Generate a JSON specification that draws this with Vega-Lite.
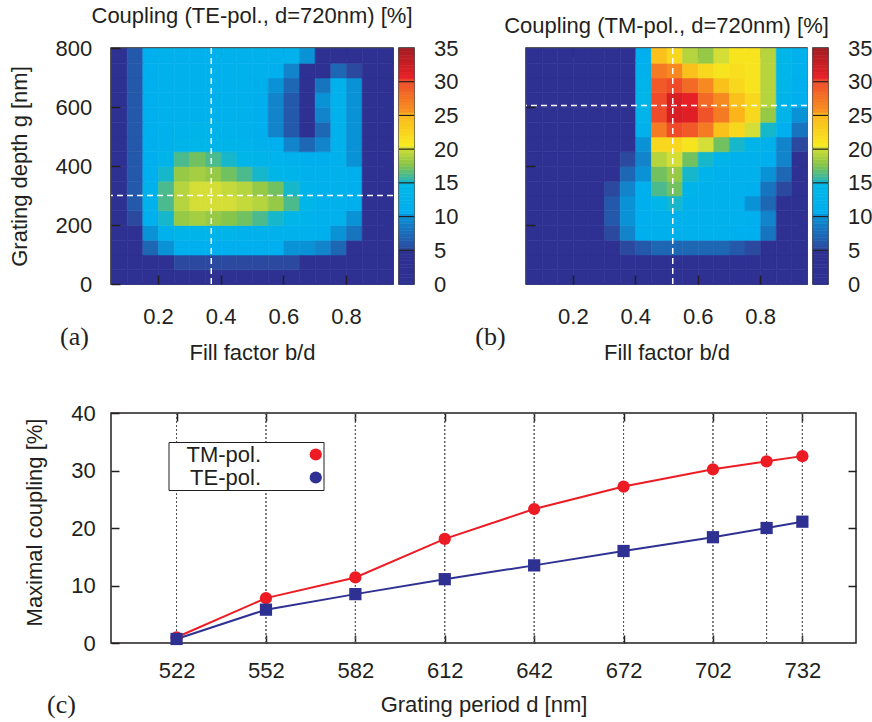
{
  "$schema": "https://vega.github.io/schema/vega-lite/v6.json",
  "background": "white",
  "padding": {"left": 7, "top": 4, "right": 5, "bottom": 5},
  "config": {
    "font": "Liberation Sans",
    "view": {"stroke": "#231f20", "strokeWidth": 1.5},
    "axis": {"labelFont": "Liberation Sans", "labelFontSize": 22, "labelColor": "#231f20", "titleFont": "Liberation Sans", "titleFontSize": 22, "titleFontWeight": "normal", "titleColor": "#231f20", "grid": false, "domain": false, "tickColor": "#231f20", "tickWidth": 1.5},
    "title": {"font": "Liberation Sans", "fontSize": 22, "fontWeight": "normal", "color": "#231f20"}
  },
  "datasets": {
    "te": [
      {"f":0.05,"g":0,"v":1},{"f":0.1,"g":0,"v":1},{"f":0.15,"g":0,"v":1},{"f":0.2,"g":0,"v":2},{"f":0.25,"g":0,"v":2},{"f":0.3,"g":0,"v":2},{"f":0.35,"g":0,"v":2},{"f":0.4,"g":0,"v":2},{"f":0.45,"g":0,"v":2},{"f":0.5,"g":0,"v":2},{"f":0.55,"g":0,"v":2},{"f":0.6,"g":0,"v":2},{"f":0.65,"g":0,"v":2},{"f":0.7,"g":0,"v":2},{"f":0.75,"g":0,"v":1},{"f":0.8,"g":0,"v":1},{"f":0.85,"g":0,"v":1},{"f":0.9,"g":0,"v":1},
      {"f":0.05,"g":50,"v":1},{"f":0.1,"g":50,"v":2},{"f":0.15,"g":50,"v":3},{"f":0.2,"g":50,"v":4},{"f":0.25,"g":50,"v":5},{"f":0.3,"g":50,"v":5},{"f":0.35,"g":50,"v":5},{"f":0.4,"g":50,"v":5},{"f":0.45,"g":50,"v":5},{"f":0.5,"g":50,"v":5},{"f":0.55,"g":50,"v":5},{"f":0.6,"g":50,"v":5},{"f":0.65,"g":50,"v":4},{"f":0.7,"g":50,"v":4},{"f":0.75,"g":50,"v":3},{"f":0.8,"g":50,"v":2},{"f":0.85,"g":50,"v":1},{"f":0.9,"g":50,"v":1},
      {"f":0.05,"g":100,"v":1},{"f":0.1,"g":100,"v":3},{"f":0.15,"g":100,"v":7},{"f":0.2,"g":100,"v":10},{"f":0.25,"g":100,"v":11},{"f":0.3,"g":100,"v":11},{"f":0.35,"g":100,"v":11},{"f":0.4,"g":100,"v":11},{"f":0.45,"g":100,"v":11},{"f":0.5,"g":100,"v":11},{"f":0.55,"g":100,"v":11},{"f":0.6,"g":100,"v":10},{"f":0.65,"g":100,"v":10},{"f":0.7,"g":100,"v":9},{"f":0.75,"g":100,"v":7},{"f":0.8,"g":100,"v":4},{"f":0.85,"g":100,"v":2},{"f":0.9,"g":100,"v":1},
      {"f":0.05,"g":150,"v":1},{"f":0.1,"g":150,"v":4},{"f":0.15,"g":150,"v":10},{"f":0.2,"g":150,"v":12},{"f":0.25,"g":150,"v":13},{"f":0.3,"g":150,"v":13},{"f":0.35,"g":150,"v":13},{"f":0.4,"g":150,"v":13},{"f":0.45,"g":150,"v":12},{"f":0.5,"g":150,"v":12},{"f":0.55,"g":150,"v":12},{"f":0.6,"g":150,"v":12},{"f":0.65,"g":150,"v":12},{"f":0.7,"g":150,"v":11},{"f":0.75,"g":150,"v":10},{"f":0.8,"g":150,"v":8},{"f":0.85,"g":150,"v":3},{"f":0.9,"g":150,"v":1},
      {"f":0.05,"g":200,"v":1},{"f":0.1,"g":200,"v":5},{"f":0.15,"g":200,"v":11},{"f":0.2,"g":200,"v":15},{"f":0.25,"g":200,"v":18},{"f":0.3,"g":200,"v":18.5},{"f":0.35,"g":200,"v":18},{"f":0.4,"g":200,"v":17.5},{"f":0.45,"g":200,"v":17},{"f":0.5,"g":200,"v":16},{"f":0.55,"g":200,"v":15},{"f":0.6,"g":200,"v":14},{"f":0.65,"g":200,"v":12.5},{"f":0.7,"g":200,"v":12},{"f":0.75,"g":200,"v":12},{"f":0.8,"g":200,"v":10},{"f":0.85,"g":200,"v":3},{"f":0.9,"g":200,"v":1},
      {"f":0.05,"g":250,"v":1},{"f":0.1,"g":250,"v":6},{"f":0.15,"g":250,"v":12},{"f":0.2,"g":250,"v":16},{"f":0.25,"g":250,"v":19},{"f":0.3,"g":250,"v":20},{"f":0.35,"g":250,"v":20},{"f":0.4,"g":250,"v":20},{"f":0.45,"g":250,"v":19.5},{"f":0.5,"g":250,"v":19},{"f":0.55,"g":250,"v":18},{"f":0.6,"g":250,"v":16},{"f":0.65,"g":250,"v":14},{"f":0.7,"g":250,"v":12},{"f":0.75,"g":250,"v":12},{"f":0.8,"g":250,"v":11},{"f":0.85,"g":250,"v":4},{"f":0.9,"g":250,"v":1},
      {"f":0.05,"g":300,"v":1},{"f":0.1,"g":300,"v":6},{"f":0.15,"g":300,"v":12},{"f":0.2,"g":300,"v":16},{"f":0.25,"g":300,"v":19},{"f":0.3,"g":300,"v":20},{"f":0.35,"g":300,"v":20},{"f":0.4,"g":300,"v":19.5},{"f":0.45,"g":300,"v":19},{"f":0.5,"g":300,"v":18},{"f":0.55,"g":300,"v":17},{"f":0.6,"g":300,"v":15},{"f":0.65,"g":300,"v":13},{"f":0.7,"g":300,"v":12},{"f":0.75,"g":300,"v":12},{"f":0.8,"g":300,"v":11},{"f":0.85,"g":300,"v":4},{"f":0.9,"g":300,"v":1},
      {"f":0.05,"g":350,"v":1},{"f":0.1,"g":350,"v":6},{"f":0.15,"g":350,"v":11},{"f":0.2,"g":350,"v":15},{"f":0.25,"g":350,"v":18},{"f":0.3,"g":350,"v":18.5},{"f":0.35,"g":350,"v":18},{"f":0.4,"g":350,"v":17},{"f":0.45,"g":350,"v":16},{"f":0.5,"g":350,"v":15},{"f":0.55,"g":350,"v":14},{"f":0.6,"g":350,"v":13},{"f":0.65,"g":350,"v":12},{"f":0.7,"g":350,"v":12},{"f":0.75,"g":350,"v":12},{"f":0.8,"g":350,"v":11},{"f":0.85,"g":350,"v":3},{"f":0.9,"g":350,"v":1},
      {"f":0.05,"g":400,"v":1},{"f":0.1,"g":400,"v":6},{"f":0.15,"g":400,"v":11},{"f":0.2,"g":400,"v":13},{"f":0.25,"g":400,"v":16},{"f":0.3,"g":400,"v":17},{"f":0.35,"g":400,"v":16},{"f":0.4,"g":400,"v":15},{"f":0.45,"g":400,"v":14},{"f":0.5,"g":400,"v":13},{"f":0.55,"g":400,"v":12.5},{"f":0.6,"g":400,"v":12},{"f":0.65,"g":400,"v":11.5},{"f":0.7,"g":400,"v":11},{"f":0.75,"g":400,"v":12},{"f":0.8,"g":400,"v":10},{"f":0.85,"g":400,"v":3},{"f":0.9,"g":400,"v":1},
      {"f":0.05,"g":450,"v":1},{"f":0.1,"g":450,"v":6},{"f":0.15,"g":450,"v":11},{"f":0.2,"g":450,"v":12},{"f":0.25,"g":450,"v":13},{"f":0.3,"g":450,"v":14},{"f":0.35,"g":450,"v":13.5},{"f":0.4,"g":450,"v":13},{"f":0.45,"g":450,"v":12.5},{"f":0.5,"g":450,"v":12},{"f":0.55,"g":450,"v":11},{"f":0.6,"g":450,"v":9},{"f":0.65,"g":450,"v":7},{"f":0.7,"g":450,"v":9},{"f":0.75,"g":450,"v":12},{"f":0.8,"g":450,"v":10},{"f":0.85,"g":450,"v":2},{"f":0.9,"g":450,"v":1},
      {"f":0.05,"g":500,"v":1},{"f":0.1,"g":500,"v":6},{"f":0.15,"g":500,"v":11},{"f":0.2,"g":500,"v":12},{"f":0.25,"g":500,"v":12.5},{"f":0.3,"g":500,"v":13},{"f":0.35,"g":500,"v":13},{"f":0.4,"g":500,"v":12.5},{"f":0.45,"g":500,"v":12},{"f":0.5,"g":500,"v":11},{"f":0.55,"g":500,"v":9},{"f":0.6,"g":500,"v":6},{"f":0.65,"g":500,"v":3},{"f":0.7,"g":500,"v":7},{"f":0.75,"g":500,"v":12},{"f":0.8,"g":500,"v":10},{"f":0.85,"g":500,"v":2},{"f":0.9,"g":500,"v":1},
      {"f":0.05,"g":550,"v":1},{"f":0.1,"g":550,"v":6},{"f":0.15,"g":550,"v":11},{"f":0.2,"g":550,"v":12},{"f":0.25,"g":550,"v":12},{"f":0.3,"g":550,"v":12},{"f":0.35,"g":550,"v":12},{"f":0.4,"g":550,"v":12},{"f":0.45,"g":550,"v":12},{"f":0.5,"g":550,"v":11},{"f":0.55,"g":550,"v":9},{"f":0.6,"g":550,"v":6},{"f":0.65,"g":550,"v":3},{"f":0.7,"g":550,"v":9},{"f":0.75,"g":550,"v":12},{"f":0.8,"g":550,"v":10},{"f":0.85,"g":550,"v":2},{"f":0.9,"g":550,"v":1},
      {"f":0.05,"g":600,"v":1},{"f":0.1,"g":600,"v":6},{"f":0.15,"g":600,"v":11},{"f":0.2,"g":600,"v":12},{"f":0.25,"g":600,"v":12},{"f":0.3,"g":600,"v":12},{"f":0.35,"g":600,"v":12},{"f":0.4,"g":600,"v":12},{"f":0.45,"g":600,"v":12},{"f":0.5,"g":600,"v":11},{"f":0.55,"g":600,"v":9},{"f":0.6,"g":600,"v":6},{"f":0.65,"g":600,"v":3},{"f":0.7,"g":600,"v":10},{"f":0.75,"g":600,"v":12},{"f":0.8,"g":600,"v":10},{"f":0.85,"g":600,"v":2},{"f":0.9,"g":600,"v":1},
      {"f":0.05,"g":650,"v":1},{"f":0.1,"g":650,"v":6},{"f":0.15,"g":650,"v":11},{"f":0.2,"g":650,"v":12},{"f":0.25,"g":650,"v":12},{"f":0.3,"g":650,"v":12},{"f":0.35,"g":650,"v":12},{"f":0.4,"g":650,"v":12},{"f":0.45,"g":650,"v":12},{"f":0.5,"g":650,"v":11.5},{"f":0.55,"g":650,"v":10},{"f":0.6,"g":650,"v":7},{"f":0.65,"g":650,"v":3},{"f":0.7,"g":650,"v":8},{"f":0.75,"g":650,"v":12},{"f":0.8,"g":650,"v":10},{"f":0.85,"g":650,"v":2},{"f":0.9,"g":650,"v":1},
      {"f":0.05,"g":700,"v":1},{"f":0.1,"g":700,"v":6},{"f":0.15,"g":700,"v":11},{"f":0.2,"g":700,"v":12},{"f":0.25,"g":700,"v":12},{"f":0.3,"g":700,"v":12},{"f":0.35,"g":700,"v":12},{"f":0.4,"g":700,"v":12},{"f":0.45,"g":700,"v":12},{"f":0.5,"g":700,"v":12},{"f":0.55,"g":700,"v":11},{"f":0.6,"g":700,"v":9},{"f":0.65,"g":700,"v":4},{"f":0.7,"g":700,"v":4},{"f":0.75,"g":700,"v":7},{"f":0.8,"g":700,"v":5},{"f":0.85,"g":700,"v":1},{"f":0.9,"g":700,"v":1},
      {"f":0.05,"g":750,"v":1},{"f":0.1,"g":750,"v":6},{"f":0.15,"g":750,"v":11},{"f":0.2,"g":750,"v":12},{"f":0.25,"g":750,"v":12},{"f":0.3,"g":750,"v":12},{"f":0.35,"g":750,"v":12},{"f":0.4,"g":750,"v":12},{"f":0.45,"g":750,"v":12},{"f":0.5,"g":750,"v":12},{"f":0.55,"g":750,"v":12},{"f":0.6,"g":750,"v":12},{"f":0.65,"g":750,"v":10},{"f":0.7,"g":750,"v":2},{"f":0.75,"g":750,"v":2},{"f":0.8,"g":750,"v":1},{"f":0.85,"g":750,"v":1},{"f":0.9,"g":750,"v":1}
    ],
    "tm": [
      {"f":0.05,"g":0,"v":1},{"f":0.1,"g":0,"v":1},{"f":0.15,"g":0,"v":1},{"f":0.2,"g":0,"v":1},{"f":0.25,"g":0,"v":1},{"f":0.3,"g":0,"v":1},{"f":0.35,"g":0,"v":1},{"f":0.4,"g":0,"v":1},{"f":0.45,"g":0,"v":1},{"f":0.5,"g":0,"v":1},{"f":0.55,"g":0,"v":1},{"f":0.6,"g":0,"v":1},{"f":0.65,"g":0,"v":1},{"f":0.7,"g":0,"v":1},{"f":0.75,"g":0,"v":1},{"f":0.8,"g":0,"v":1},{"f":0.85,"g":0,"v":1},{"f":0.9,"g":0,"v":1},
      {"f":0.05,"g":50,"v":1},{"f":0.1,"g":50,"v":1},{"f":0.15,"g":50,"v":1},{"f":0.2,"g":50,"v":1},{"f":0.25,"g":50,"v":1},{"f":0.3,"g":50,"v":1.5},{"f":0.35,"g":50,"v":2},{"f":0.4,"g":50,"v":2.5},{"f":0.45,"g":50,"v":3},{"f":0.5,"g":50,"v":3},{"f":0.55,"g":50,"v":3},{"f":0.6,"g":50,"v":3},{"f":0.65,"g":50,"v":3},{"f":0.7,"g":50,"v":3},{"f":0.75,"g":50,"v":2},{"f":0.8,"g":50,"v":2},{"f":0.85,"g":50,"v":1},{"f":0.9,"g":50,"v":1},
      {"f":0.05,"g":100,"v":1},{"f":0.1,"g":100,"v":1},{"f":0.15,"g":100,"v":1},{"f":0.2,"g":100,"v":1},{"f":0.25,"g":100,"v":1},{"f":0.3,"g":100,"v":3},{"f":0.35,"g":100,"v":5},{"f":0.4,"g":100,"v":6},{"f":0.45,"g":100,"v":7},{"f":0.5,"g":100,"v":7},{"f":0.55,"g":100,"v":7},{"f":0.6,"g":100,"v":7},{"f":0.65,"g":100,"v":7},{"f":0.7,"g":100,"v":6},{"f":0.75,"g":100,"v":5},{"f":0.8,"g":100,"v":4},{"f":0.85,"g":100,"v":2},{"f":0.9,"g":100,"v":1},
      {"f":0.05,"g":150,"v":1},{"f":0.1,"g":150,"v":1},{"f":0.15,"g":150,"v":1},{"f":0.2,"g":150,"v":1},{"f":0.25,"g":150,"v":2},{"f":0.3,"g":150,"v":5},{"f":0.35,"g":150,"v":9},{"f":0.4,"g":150,"v":11},{"f":0.45,"g":150,"v":11.5},{"f":0.5,"g":150,"v":12},{"f":0.55,"g":150,"v":12},{"f":0.6,"g":150,"v":12},{"f":0.65,"g":150,"v":12},{"f":0.7,"g":150,"v":11},{"f":0.75,"g":150,"v":11},{"f":0.8,"g":150,"v":8},{"f":0.85,"g":150,"v":3},{"f":0.9,"g":150,"v":1},
      {"f":0.05,"g":200,"v":1},{"f":0.1,"g":200,"v":1},{"f":0.15,"g":200,"v":1},{"f":0.2,"g":200,"v":1},{"f":0.25,"g":200,"v":2},{"f":0.3,"g":200,"v":6},{"f":0.35,"g":200,"v":10},{"f":0.4,"g":200,"v":11},{"f":0.45,"g":200,"v":12},{"f":0.5,"g":200,"v":12},{"f":0.55,"g":200,"v":12},{"f":0.6,"g":200,"v":12},{"f":0.65,"g":200,"v":12},{"f":0.7,"g":200,"v":12},{"f":0.75,"g":200,"v":11},{"f":0.8,"g":200,"v":9},{"f":0.85,"g":200,"v":4},{"f":0.9,"g":200,"v":2},
      {"f":0.05,"g":250,"v":1},{"f":0.1,"g":250,"v":1},{"f":0.15,"g":250,"v":1},{"f":0.2,"g":250,"v":1},{"f":0.25,"g":250,"v":2},{"f":0.3,"g":250,"v":6},{"f":0.35,"g":250,"v":10},{"f":0.4,"g":250,"v":11},{"f":0.45,"g":250,"v":14},{"f":0.5,"g":250,"v":15},{"f":0.55,"g":250,"v":12},{"f":0.6,"g":250,"v":12},{"f":0.65,"g":250,"v":12},{"f":0.7,"g":250,"v":12},{"f":0.75,"g":250,"v":10},{"f":0.8,"g":250,"v":7},{"f":0.85,"g":250,"v":4},{"f":0.9,"g":250,"v":2},
      {"f":0.05,"g":300,"v":1},{"f":0.1,"g":300,"v":1},{"f":0.15,"g":300,"v":1},{"f":0.2,"g":300,"v":1},{"f":0.25,"g":300,"v":2},{"f":0.3,"g":300,"v":5},{"f":0.35,"g":300,"v":9},{"f":0.4,"g":300,"v":11},{"f":0.45,"g":300,"v":16},{"f":0.5,"g":300,"v":17},{"f":0.55,"g":300,"v":13},{"f":0.6,"g":300,"v":12},{"f":0.65,"g":300,"v":12},{"f":0.7,"g":300,"v":12},{"f":0.75,"g":300,"v":11},{"f":0.8,"g":300,"v":8},{"f":0.85,"g":300,"v":5},{"f":0.9,"g":300,"v":2},
      {"f":0.05,"g":350,"v":1},{"f":0.1,"g":350,"v":1},{"f":0.15,"g":350,"v":1},{"f":0.2,"g":350,"v":1},{"f":0.25,"g":350,"v":2},{"f":0.3,"g":350,"v":4},{"f":0.35,"g":350,"v":7},{"f":0.4,"g":350,"v":10},{"f":0.45,"g":350,"v":17},{"f":0.5,"g":350,"v":18},{"f":0.55,"g":350,"v":15},{"f":0.6,"g":350,"v":13},{"f":0.65,"g":350,"v":12},{"f":0.7,"g":350,"v":12},{"f":0.75,"g":350,"v":12},{"f":0.8,"g":350,"v":10},{"f":0.85,"g":350,"v":7},{"f":0.9,"g":350,"v":3},
      {"f":0.05,"g":400,"v":1},{"f":0.1,"g":400,"v":1},{"f":0.15,"g":400,"v":1},{"f":0.2,"g":400,"v":1},{"f":0.25,"g":400,"v":1},{"f":0.3,"g":400,"v":3},{"f":0.35,"g":400,"v":5},{"f":0.4,"g":400,"v":9},{"f":0.45,"g":400,"v":19},{"f":0.5,"g":400,"v":20},{"f":0.55,"g":400,"v":17},{"f":0.6,"g":400,"v":15},{"f":0.65,"g":400,"v":13},{"f":0.7,"g":400,"v":12},{"f":0.75,"g":400,"v":12},{"f":0.8,"g":400,"v":11},{"f":0.85,"g":400,"v":9},{"f":0.9,"g":400,"v":4},
      {"f":0.05,"g":450,"v":1},{"f":0.1,"g":450,"v":1},{"f":0.15,"g":450,"v":1},{"f":0.2,"g":450,"v":1},{"f":0.25,"g":450,"v":1},{"f":0.3,"g":450,"v":2},{"f":0.35,"g":450,"v":3},{"f":0.4,"g":450,"v":10},{"f":0.45,"g":450,"v":22},{"f":0.5,"g":450,"v":22},{"f":0.55,"g":450,"v":21},{"f":0.6,"g":450,"v":20},{"f":0.65,"g":450,"v":17},{"f":0.7,"g":450,"v":15},{"f":0.75,"g":450,"v":13},{"f":0.8,"g":450,"v":12},{"f":0.85,"g":450,"v":9},{"f":0.9,"g":450,"v":5},
      {"f":0.05,"g":500,"v":1},{"f":0.1,"g":500,"v":1},{"f":0.15,"g":500,"v":1},{"f":0.2,"g":500,"v":1},{"f":0.25,"g":500,"v":1},{"f":0.3,"g":500,"v":1},{"f":0.35,"g":500,"v":1},{"f":0.4,"g":500,"v":12},{"f":0.45,"g":500,"v":27},{"f":0.5,"g":500,"v":30},{"f":0.55,"g":500,"v":29},{"f":0.6,"g":500,"v":27},{"f":0.65,"g":500,"v":24},{"f":0.7,"g":500,"v":22},{"f":0.75,"g":500,"v":20},{"f":0.8,"g":500,"v":15},{"f":0.85,"g":500,"v":11},{"f":0.9,"g":500,"v":8},
      {"f":0.05,"g":550,"v":1},{"f":0.1,"g":550,"v":1},{"f":0.15,"g":550,"v":1},{"f":0.2,"g":550,"v":1},{"f":0.25,"g":550,"v":1},{"f":0.3,"g":550,"v":1},{"f":0.35,"g":550,"v":1},{"f":0.4,"g":550,"v":13},{"f":0.45,"g":550,"v":30},{"f":0.5,"g":550,"v":31.5},{"f":0.55,"g":550,"v":31},{"f":0.6,"g":550,"v":29.5},{"f":0.65,"g":550,"v":27},{"f":0.7,"g":550,"v":25},{"f":0.75,"g":550,"v":22},{"f":0.8,"g":550,"v":18},{"f":0.85,"g":550,"v":13},{"f":0.9,"g":550,"v":10},
      {"f":0.05,"g":600,"v":1},{"f":0.1,"g":600,"v":1},{"f":0.15,"g":600,"v":1},{"f":0.2,"g":600,"v":1},{"f":0.25,"g":600,"v":1},{"f":0.3,"g":600,"v":1},{"f":0.35,"g":600,"v":1},{"f":0.4,"g":600,"v":14},{"f":0.45,"g":600,"v":30},{"f":0.5,"g":600,"v":31.5},{"f":0.55,"g":600,"v":30.5},{"f":0.6,"g":600,"v":28},{"f":0.65,"g":600,"v":26},{"f":0.7,"g":600,"v":24},{"f":0.75,"g":600,"v":22},{"f":0.8,"g":600,"v":19},{"f":0.85,"g":600,"v":13},{"f":0.9,"g":600,"v":11},
      {"f":0.05,"g":650,"v":1},{"f":0.1,"g":650,"v":1},{"f":0.15,"g":650,"v":1},{"f":0.2,"g":650,"v":1},{"f":0.25,"g":650,"v":1},{"f":0.3,"g":650,"v":1},{"f":0.35,"g":650,"v":1},{"f":0.4,"g":650,"v":13},{"f":0.45,"g":650,"v":29},{"f":0.5,"g":650,"v":30},{"f":0.55,"g":650,"v":28},{"f":0.6,"g":650,"v":26},{"f":0.65,"g":650,"v":24},{"f":0.7,"g":650,"v":22},{"f":0.75,"g":650,"v":21},{"f":0.8,"g":650,"v":19},{"f":0.85,"g":650,"v":14},{"f":0.9,"g":650,"v":11},
      {"f":0.05,"g":700,"v":1},{"f":0.1,"g":700,"v":1},{"f":0.15,"g":700,"v":1},{"f":0.2,"g":700,"v":1},{"f":0.25,"g":700,"v":1},{"f":0.3,"g":700,"v":1},{"f":0.35,"g":700,"v":1},{"f":0.4,"g":700,"v":12},{"f":0.45,"g":700,"v":27},{"f":0.5,"g":700,"v":26},{"f":0.55,"g":700,"v":24},{"f":0.6,"g":700,"v":22},{"f":0.65,"g":700,"v":21},{"f":0.7,"g":700,"v":21.5},{"f":0.75,"g":700,"v":21},{"f":0.8,"g":700,"v":19},{"f":0.85,"g":700,"v":14},{"f":0.9,"g":700,"v":12},
      {"f":0.05,"g":750,"v":1},{"f":0.1,"g":750,"v":1},{"f":0.15,"g":750,"v":1},{"f":0.2,"g":750,"v":1},{"f":0.25,"g":750,"v":1},{"f":0.3,"g":750,"v":1},{"f":0.35,"g":750,"v":1},{"f":0.4,"g":750,"v":11},{"f":0.45,"g":750,"v":24},{"f":0.5,"g":750,"v":22},{"f":0.55,"g":750,"v":19},{"f":0.6,"g":750,"v":18},{"f":0.65,"g":750,"v":20},{"f":0.7,"g":750,"v":21},{"f":0.75,"g":750,"v":21},{"f":0.8,"g":750,"v":19},{"f":0.85,"g":750,"v":14},{"f":0.9,"g":750,"v":12}
    ],
    "cbar": [
      {"v":0},{"v":0.5},{"v":1},{"v":1.5},{"v":2},{"v":2.5},{"v":3},{"v":3.5},{"v":4},{"v":4.5},
      {"v":5},{"v":5.5},{"v":6},{"v":6.5},{"v":7},{"v":7.5},{"v":8},{"v":8.5},{"v":9},{"v":9.5},
      {"v":10},{"v":10.5},{"v":11},{"v":11.5},{"v":12},{"v":12.5},{"v":13},{"v":13.5},{"v":14},{"v":14.5},
      {"v":15},{"v":15.5},{"v":16},{"v":16.5},{"v":17},{"v":17.5},{"v":18},{"v":18.5},{"v":19},{"v":19.5},
      {"v":20},{"v":20.5},{"v":21},{"v":21.5},{"v":22},{"v":22.5},{"v":23},{"v":23.5},{"v":24},{"v":24.5},
      {"v":25},{"v":25.5},{"v":26},{"v":26.5},{"v":27},{"v":27.5},{"v":28},{"v":28.5},{"v":29},{"v":29.5},
      {"v":30},{"v":30.5},{"v":31},{"v":31.5},{"v":32},{"v":32.5},{"v":33},{"v":33.5},{"v":34},{"v":34.5}
    ],
    "cbarLines": [{"v":5},{"v":10},{"v":15},{"v":20},{"v":25},{"v":30}],
    "lines": [
      {"pol":"TM-pol.","d":522,"c":1.0},{"pol":"TM-pol.","d":552,"c":7.8},{"pol":"TM-pol.","d":582,"c":11.4},{"pol":"TM-pol.","d":612,"c":18.1},{"pol":"TM-pol.","d":642,"c":23.3},{"pol":"TM-pol.","d":672,"c":27.2},{"pol":"TM-pol.","d":702,"c":30.2},{"pol":"TM-pol.","d":720,"c":31.6},{"pol":"TM-pol.","d":732,"c":32.5},
      {"pol":"TE-pol.","d":522,"c":0.7},{"pol":"TE-pol.","d":552,"c":5.8},{"pol":"TE-pol.","d":582,"c":8.5},{"pol":"TE-pol.","d":612,"c":11.1},{"pol":"TE-pol.","d":642,"c":13.5},{"pol":"TE-pol.","d":672,"c":16.0},{"pol":"TE-pol.","d":702,"c":18.4},{"pol":"TE-pol.","d":720,"c":20.0},{"pol":"TE-pol.","d":732,"c":21.1}
    ]
  },
  "spacing": 36,
  "vconcat": [
    {
      "bounds": "flush",
      "spacing": 6,
      "hconcat": [
        {
          "width": 282,
          "height": 236,
          "title": {"text": "Coupling (TE-pol., d=720nm) [%]", "anchor": "middle", "offset": -13, "baseline": "bottom"},
          "layer": [
            {
              "data": {"name": "te"},
              "mark": {"type": "rect", "strokeWidth": 0.6},
              "encoding": {
                "x": {"field": "f", "type": "quantitative", "bin": {"binned": true, "step": 0.05}, "scale": {"domain": [0.05, 0.95], "nice": false, "zero": false},
                      "axis": {"orient": "bottom", "values": [0.2, 0.4, 0.6, 0.8], "format": ".1f", "tickSize": -9, "labelPadding": 31.4, "title": "Fill factor b/d", "titleY": 68.3, "titleBaseline": "middle"}},
                "y": {"field": "g", "type": "quantitative", "bin": {"binned": true, "step": 50}, "scale": {"domain": [0, 800], "nice": false, "zero": false},
                      "axis": {"orient": "left", "values": [0, 200, 400, 600, 800], "tickSize": -9, "labelPadding": 28.3, "title": "Grating depth g [nm]", "titleX": -91.7, "titleY": 118, "titleBaseline": "middle"}},
                "color": {"field": "v", "type": "quantitative", "legend": null,
                          "scale": {"type": "linear", "clamp": true, "interpolate": "rgb",
                                    "domain": [0, 4.9, 5, 10, 10.5, 14.8, 15.2, 17.5, 20, 20.3, 25, 25.2, 30, 30.2, 35],
                                    "range": ["#2e3192", "#2e3192", "#2b4a9f", "#0a92d6", "#00aeef", "#00b8e6", "#2cb6b0", "#86c44a", "#d4de36", "#f7ec1f", "#fbb51b", "#f7961e", "#ef4a2a", "#ec1f26", "#a01d22"]}},
                "stroke": {"field": "v", "type": "quantitative", "legend": null,
                           "scale": {"type": "linear", "clamp": true, "interpolate": "rgb",
                                     "domain": [0, 4.9, 5, 10, 10.5, 14.8, 15.2, 17.5, 20, 20.3, 25, 25.2, 30, 30.2, 35],
                                     "range": ["#2e3192", "#2e3192", "#2b4a9f", "#0a92d6", "#00aeef", "#00b8e6", "#2cb6b0", "#86c44a", "#d4de36", "#f7ec1f", "#fbb51b", "#f7961e", "#ef4a2a", "#ec1f26", "#a01d22"]}}
              }
            },
            {
              "data": {"values": [{"f": 0.37}]},
              "mark": {"type": "rule", "color": "white", "strokeDash": [6, 4], "strokeWidth": 1.5},
              "encoding": {
                "x": {"field": "f", "type": "quantitative", "axis": {"orient": "top", "values": [0.2, 0.4, 0.6, 0.8], "labels": false, "tickSize": -9, "title": null}}
              }
            },
            {
              "data": {"values": [{"g": 300}]},
              "mark": {"type": "rule", "color": "white", "strokeDash": [6, 4], "strokeWidth": 1.5},
              "encoding": {
                "y": {"field": "g", "type": "quantitative", "axis": {"orient": "right", "values": [200, 400, 600], "labels": false, "tickSize": -9, "title": "(a)", "titleAngle": 0, "titleX": -319, "titleY": 288.4, "titleAlign": "center", "titleBaseline": "middle", "titleFont": "Liberation Serif", "titleFontSize": 26}}
              }
            }
          ],
          "resolve": {"axis": {"x": "independent", "y": "independent"}}
        },
        {
          "width": 15,
          "height": 236,
          "layer": [
            {
              "data": {"name": "cbar"},
              "mark": {"type": "rect", "strokeWidth": 0.6},
              "encoding": {
                "y": {"field": "v", "type": "quantitative", "bin": {"binned": true, "step": 0.5}, "scale": {"domain": [0, 35], "nice": false, "zero": false},
                      "axis": {"orient": "right", "values": [0, 5, 10, 15, 20, 25, 30, 35], "format": "d", "ticks": false, "labelPadding": 19.5, "title": null}},
                "color": {"field": "v", "type": "quantitative", "legend": null,
                          "scale": {"type": "linear", "clamp": true, "interpolate": "rgb",
                                    "domain": [0, 4.9, 5, 10, 10.5, 14.8, 15.2, 17.5, 20, 20.3, 25, 25.2, 30, 30.2, 35],
                                    "range": ["#2e3192", "#2e3192", "#2b4a9f", "#0a92d6", "#00aeef", "#00b8e6", "#2cb6b0", "#86c44a", "#d4de36", "#f7ec1f", "#fbb51b", "#f7961e", "#ef4a2a", "#ec1f26", "#a01d22"]}},
                "stroke": {"field": "v", "type": "quantitative", "legend": null,
                           "scale": {"type": "linear", "clamp": true, "interpolate": "rgb",
                                     "domain": [0, 4.9, 5, 10, 10.5, 14.8, 15.2, 17.5, 20, 20.3, 25, 25.2, 30, 30.2, 35],
                                     "range": ["#2e3192", "#2e3192", "#2b4a9f", "#0a92d6", "#00aeef", "#00b8e6", "#2cb6b0", "#86c44a", "#d4de36", "#f7ec1f", "#fbb51b", "#f7961e", "#ef4a2a", "#ec1f26", "#a01d22"]}}
              }
            },
            {
              "data": {"name": "cbarLines"},
              "mark": {"type": "rule", "color": "#231f20", "strokeWidth": 1.2},
              "encoding": {"y": {"field": "v", "type": "quantitative"}}
            }
          ]
        },
        {
          "width": 100,
          "height": 236,
          "view": {"stroke": null},
          "data": {"values": []},
          "mark": {"type": "rect"},
          "encoding": {}
        },
        {
          "width": 281,
          "height": 236,
          "title": {"text": "Coupling (TM-pol., d=720nm) [%]", "anchor": "middle", "offset": -13, "baseline": "bottom"},
          "layer": [
            {
              "data": {"name": "tm"},
              "mark": {"type": "rect", "strokeWidth": 0.6},
              "encoding": {
                "x": {"field": "f", "type": "quantitative", "bin": {"binned": true, "step": 0.05}, "scale": {"domain": [0.05, 0.95], "nice": false, "zero": false},
                      "axis": {"orient": "bottom", "values": [0.2, 0.4, 0.6, 0.8], "format": ".1f", "tickSize": -9, "labelPadding": 31.4, "title": "Fill factor b/d", "titleY": 68.3, "titleBaseline": "middle"}},
                "y": {"field": "g", "type": "quantitative", "bin": {"binned": true, "step": 50}, "scale": {"domain": [0, 800], "nice": false, "zero": false},
                      "axis": {"orient": "left", "values": [200, 400, 600], "labels": false, "tickSize": -9, "title": null}},
                "color": {"field": "v", "type": "quantitative", "legend": null,
                          "scale": {"type": "linear", "clamp": true, "interpolate": "rgb",
                                    "domain": [0, 4.9, 5, 10, 10.5, 14.8, 15.2, 17.5, 20, 20.3, 25, 25.2, 30, 30.2, 35],
                                    "range": ["#2e3192", "#2e3192", "#2b4a9f", "#0a92d6", "#00aeef", "#00b8e6", "#2cb6b0", "#86c44a", "#d4de36", "#f7ec1f", "#fbb51b", "#f7961e", "#ef4a2a", "#ec1f26", "#a01d22"]}},
                "stroke": {"field": "v", "type": "quantitative", "legend": null,
                           "scale": {"type": "linear", "clamp": true, "interpolate": "rgb",
                                     "domain": [0, 4.9, 5, 10, 10.5, 14.8, 15.2, 17.5, 20, 20.3, 25, 25.2, 30, 30.2, 35],
                                     "range": ["#2e3192", "#2e3192", "#2b4a9f", "#0a92d6", "#00aeef", "#00b8e6", "#2cb6b0", "#86c44a", "#d4de36", "#f7ec1f", "#fbb51b", "#f7961e", "#ef4a2a", "#ec1f26", "#a01d22"]}}
              }
            },
            {
              "data": {"values": [{"f": 0.52}]},
              "mark": {"type": "rule", "color": "white", "strokeDash": [6, 4], "strokeWidth": 1.5},
              "encoding": {
                "x": {"field": "f", "type": "quantitative", "axis": {"orient": "top", "values": [0.2, 0.4, 0.6, 0.8], "labels": false, "tickSize": -9, "title": null}}
              }
            },
            {
              "data": {"values": [{"g": 605}]},
              "mark": {"type": "rule", "color": "white", "strokeDash": [6, 4], "strokeWidth": 1.5},
              "encoding": {
                "y": {"field": "g", "type": "quantitative", "axis": {"orient": "right", "values": [200, 400, 600], "labels": false, "tickSize": -9, "title": "(b)", "titleAngle": 0, "titleX": -317, "titleY": 288.4, "titleAlign": "center", "titleBaseline": "middle", "titleFont": "Liberation Serif", "titleFontSize": 26}}
              }
            }
          ],
          "resolve": {"axis": {"x": "independent", "y": "independent"}}
        },
        {
          "width": 15,
          "height": 236,
          "layer": [
            {
              "data": {"name": "cbar"},
              "mark": {"type": "rect", "strokeWidth": 0.6},
              "encoding": {
                "y": {"field": "v", "type": "quantitative", "bin": {"binned": true, "step": 0.5}, "scale": {"domain": [0, 35], "nice": false, "zero": false},
                      "axis": {"orient": "right", "values": [0, 5, 10, 15, 20, 25, 30, 35], "format": "d", "ticks": false, "labelPadding": 19.5, "title": null}},
                "color": {"field": "v", "type": "quantitative", "legend": null,
                          "scale": {"type": "linear", "clamp": true, "interpolate": "rgb",
                                    "domain": [0, 4.9, 5, 10, 10.5, 14.8, 15.2, 17.5, 20, 20.3, 25, 25.2, 30, 30.2, 35],
                                    "range": ["#2e3192", "#2e3192", "#2b4a9f", "#0a92d6", "#00aeef", "#00b8e6", "#2cb6b0", "#86c44a", "#d4de36", "#f7ec1f", "#fbb51b", "#f7961e", "#ef4a2a", "#ec1f26", "#a01d22"]}},
                "stroke": {"field": "v", "type": "quantitative", "legend": null,
                           "scale": {"type": "linear", "clamp": true, "interpolate": "rgb",
                                     "domain": [0, 4.9, 5, 10, 10.5, 14.8, 15.2, 17.5, 20, 20.3, 25, 25.2, 30, 30.2, 35],
                                     "range": ["#2e3192", "#2e3192", "#2b4a9f", "#0a92d6", "#00aeef", "#00b8e6", "#2cb6b0", "#86c44a", "#d4de36", "#f7ec1f", "#fbb51b", "#f7961e", "#ef4a2a", "#ec1f26", "#a01d22"]}}
              }
            },
            {
              "data": {"name": "cbarLines"},
              "mark": {"type": "rule", "color": "#231f20", "strokeWidth": 1.2},
              "encoding": {"y": {"field": "v", "type": "quantitative"}}
            }
          ]
        }
      ]
    },
    {
      "width": 745,
      "height": 230,
      "data": {"name": "lines"},
      "layer": [
        {
          "mark": {"type": "rule", "color": "#555555", "strokeDash": [2, 2], "strokeWidth": 1},
          "encoding": {
            "x": {"field": "d", "type": "quantitative", "scale": {"domain": [500, 750], "nice": false, "zero": false},
                  "axis": {"orient": "top", "values": [522, 552, 582, 612, 642, 672, 702, 732], "labels": false, "tickSize": -8, "title": null}}
          }
        },
        {
          "transform": [{"filter": "datum.pol === 'TM-pol.'"}],
          "mark": {"type": "line", "strokeWidth": 2, "color": "#ed1c24"},
          "encoding": {
            "x": {"field": "d", "type": "quantitative",
                  "axis": {"orient": "bottom", "values": [522, 552, 582, 612, 642, 672, 702, 732], "tickSize": -8, "labelPadding": 25.1, "title": "Grating period d [nm]", "titleY": 61, "titleBaseline": "middle"}},
            "y": {"field": "c", "type": "quantitative", "scale": {"domain": [0, 40], "nice": false, "zero": false},
                  "axis": {"orient": "left", "values": [0, 10, 20, 30, 40], "tickSize": -8, "labelPadding": 23.7, "title": "Maximal coupling [%]", "titleX": -76.5, "titleY": 109, "titleBaseline": "middle"}}
          }
        },
        {
          "transform": [{"filter": "datum.pol === 'TE-pol.'"}],
          "mark": {"type": "line", "strokeWidth": 2, "color": "#2e3192"},
          "encoding": {
            "x": {"field": "d", "type": "quantitative", "axis": null},
            "y": {"field": "c", "type": "quantitative", "axis": null}
          }
        },
        {
          "mark": {"type": "point", "filled": true, "size": 150, "opacity": 1},
          "encoding": {
            "x": {"field": "d", "type": "quantitative", "axis": null},
            "y": {"field": "c", "type": "quantitative",
                  "axis": {"orient": "right", "values": [10, 20, 30], "labels": false, "tickSize": -8, "title": "(c)", "titleAngle": 0, "titleX": -795, "titleY": 291.4, "titleAlign": "center", "titleBaseline": "middle", "titleFont": "Liberation Serif", "titleFontSize": 26}},
            "color": {"field": "pol", "type": "nominal", "scale": {"domain": ["TM-pol.", "TE-pol."], "range": ["#ed1c24", "#2e3192"]},
                      "legend": {"orient": "none", "legendX": 57.5, "legendY": 29, "direction": "vertical", "title": null, "labelFont": "Liberation Sans", "labelFontSize": 22, "labelColor": "#231f20", "labelAlign": "right", "labelOffset": -65.75, "symbolOffset": 134.75, "symbolSize": 150, "strokeColor": "#231f20", "fillColor": "white", "padding": 1.5, "rowPadding": 1,
                                 "encode": {"symbols": {"update": {"shape": {"signal": "datum.value === 'TE-pol.' ? 'square' : 'circle'"}}}}}},
            "shape": {"field": "pol", "type": "nominal", "scale": {"domain": ["TM-pol.", "TE-pol."], "range": ["circle", "square"]}, "legend": null}
          }
        }
      ],
      "resolve": {"axis": {"x": "independent", "y": "independent"}}
    }
  ]
}
